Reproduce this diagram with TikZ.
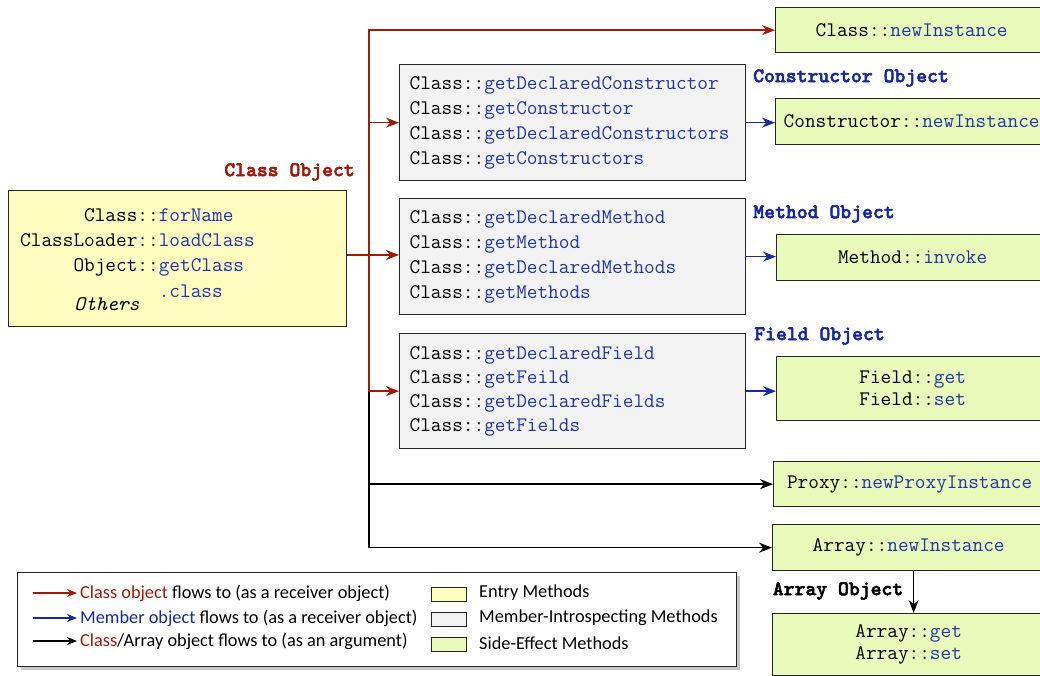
\documentclass[tikz,border=0pt]{standalone}
\usepackage{fontspec}
\newfontfamily\legendfont{Carlito}
\newfontfamily\labelfont{lmmonolt10-bold.otf}[FakeBold=2.5]
\usetikzlibrary{arrows.meta,shadows}

\definecolor{flowred}{RGB}{160,26,12}
\definecolor{flowblue}{RGB}{26,40,158}
\definecolor{callblue}{RGB}{34,52,170}
\definecolor{entryfill}{RGB}{255,252,192}
\definecolor{memberfill}{RGB}{243,243,243}
\definecolor{effectfill}{RGB}{234,250,186}
\definecolor{boxline}{RGB}{38,38,38}
\newcommand{\mcall}[1]{\textcolor{callblue}{#1}}

\begin{document}
\begin{tikzpicture}[x=1pt,y=-1pt,
	box/.style={draw=boxline,line width=1.3pt,inner sep=0pt,font=\ttfamily\fontsize{20.7}{25}\selectfont},
	entrybox/.style={box,fill=entryfill,minimum width=338pt,minimum height=136pt},
	memberbox/.style={box,fill=memberfill,align=left,text width=326pt,inner xsep=10pt,minimum height=116pt},
	effectbox/.style={box,fill=effectfill,font=\ttfamily\fontsize{20.7}{22}\selectfont,align=center,minimum width=272pt,minimum height=46pt},
	objlabel/.style={font=\labelfont\fontsize{20.7}{22}\selectfont},
	legendtext/.style={font=\legendfont\fontsize{18.3}{20}\selectfont,inner xsep=3pt,anchor=west},
	swatch/.style={draw=boxline,line width=1pt,minimum width=35pt,minimum height=14pt,inner sep=0pt},
	redflow/.style={draw=flowred,line width=1.4pt,-{Stealth[length=13pt,width=10pt]}},
	blueflow/.style={draw=flowblue,line width=1.4pt,-{Stealth[length=13pt,width=10pt]}},
	argflow/.style={draw=black,line width=1.4pt,-{Stealth[length=13pt,width=10pt]}},
	keyarrow/.style={line width=1.2pt,-{Stealth[length=10pt,width=8pt]}}]
	\useasboundingbox (0,0) rectangle (1040,675);
	\clip (0,0) rectangle (1040,675);

	% entry methods
	\node[entrybox,anchor=north west] (entry) at (8,190) {};
	\node[anchor=base west,inner sep=0pt,font=\ttfamily\fontsize{20.7}{25}\selectfont] (entrytext) at (20,221)
	    {\begin{tabular}[t]{@{}r@{}l@{}}Class::&\mcall{forName}\\ClassLoader::&\mcall{loadClass}\\Object::&\mcall{getClass}\\[1pt] &\mcall{.class}\end{tabular}};
	\node[font=\ttfamily\itshape\fontsize{20.7}{25}\selectfont] (others) at (107,304) {Others};
	\node[objlabel,text=flowred] (classobj) at (289.5,172) {Class Object};

	% member-introspecting methods
	\node[memberbox,anchor=north west] (ctor) at (399,64)
	    {Class::\mcall{getDeclaredConstructor}\\Class::\mcall{getConstructor}\\Class::\mcall{getDeclaredConstructors}\\Class::\mcall{getConstructors}};
	\node[memberbox,anchor=north west] (method) at (399,198)
	    {Class::\mcall{getDeclaredMethod}\\Class::\mcall{getMethod}\\Class::\mcall{getDeclaredMethods}\\Class::\mcall{getMethods}};
	\node[memberbox,anchor=north west,minimum height=115pt,font=\ttfamily\fontsize{20.7}{24}\selectfont] (field) at (399,333)
	    {Class::\mcall{getDeclaredField}\\Class::\mcall{getFeild}\\Class::\mcall{getDeclaredFields}\\Class::\mcall{getFields}};

	% side-effect methods
	\node[effectbox,anchor=north west,minimum height=45pt] (newinst) at (775,7) {Class::\mcall{newInstance}};
	\node[effectbox,anchor=north west] (ctorinst) at (775,98) {Constructor::\mcall{newInstance}};
	\node[effectbox,anchor=north west] (invoke) at (776,234) {Method::\mcall{invoke}};
	\node[effectbox,anchor=north west,minimum height=64pt] (fieldgs) at (776,356) {Field::\mcall{get}\\Field::\mcall{set}};
	\node[effectbox,anchor=north west,minimum height=45pt] (proxy) at (773,461) {Proxy::\mcall{newProxyInstance}};
	\node[effectbox,anchor=north west] (arrnew) at (772,524) {Array::\mcall{newInstance}};
	\node[effectbox,anchor=north west,minimum height=62pt] (arrgs) at (772,613) {Array::\mcall{get}\\Array::\mcall{set}};

	\node[objlabel,text=flowblue] (ctorobj) at (851,78) {Constructor Object};
	\node[objlabel,text=flowblue] (methodobj) at (824,214) {Method Object};
	\node[objlabel,text=flowblue] (fieldobj) at (819.5,336) {Field Object};
	\node[objlabel] (arrayobj) at (838,591) {Array Object};

	% flows
	\coordinate (split) at (369,255);
	\draw[argflow] (split) |- (proxy.west);
	\draw[argflow] (split) |- (arrnew.west);
	\draw[redflow] (entry.east |- split) -- (split -| method.west);
	\draw[redflow] (split) |- (newinst.west);
	\draw[redflow] (split) |- (ctor.west);
	\draw[redflow] (split) |- (field.west);
	\draw[blueflow] (ctor.east) -- (ctor.east -| ctorinst.west);
	\draw[blueflow] (method.east) -- (method.east -| invoke.west);
	\draw[blueflow] (field.east) -- (field.east -| fieldgs.west);
	\draw[argflow] ([xshift=5pt]arrnew.south) -- ([xshift=5pt]arrgs.north);

	% legend
	\node[draw=boxline,line width=1.3pt,fill=white,drop shadow={shadow xshift=3pt,shadow yshift=-3pt,opacity=0.45},
	    minimum width=719pt,minimum height=94pt,anchor=north west] (legend) at (17,572) {};
	\node[legendtext] (keyclass) at (77,593) {\textcolor{flowred}{Class object} flows to (as a receiver object)};
	\node[legendtext] (keymember) at (77,618) {\textcolor{flowblue}{Member object} flows to (as a receiver object)};
	\node[legendtext] (keyarg) at (77,641) {\textcolor{flowred}{Class}/Array object flows to (as an argument)};
	\draw[keyarrow,flowred] ([xshift=-44pt]keyclass.west) -- (keyclass.west);
	\draw[keyarrow,flowblue] ([xshift=-44pt]keymember.west) -- (keymember.west);
	\draw[keyarrow,black] ([xshift=-44pt]keyarg.west) -- (keyarg.west);
	\node[swatch,fill=entryfill] (swentry) at (448.5,594) {};
	\node[swatch,fill=memberfill] (swmember) at (448.5,619) {};
	\node[swatch,fill=effectfill] (sweffect) at (448.5,644) {};
	\node[legendtext] (keyentry) at (476,593) {Entry Methods};
	\node[legendtext] (keyintro) at (476,618) {Member-Introspecting Methods};
	\node[legendtext] (keyeffect) at (476,643) {Side-Effect Methods};
\end{tikzpicture}
\end{document}
